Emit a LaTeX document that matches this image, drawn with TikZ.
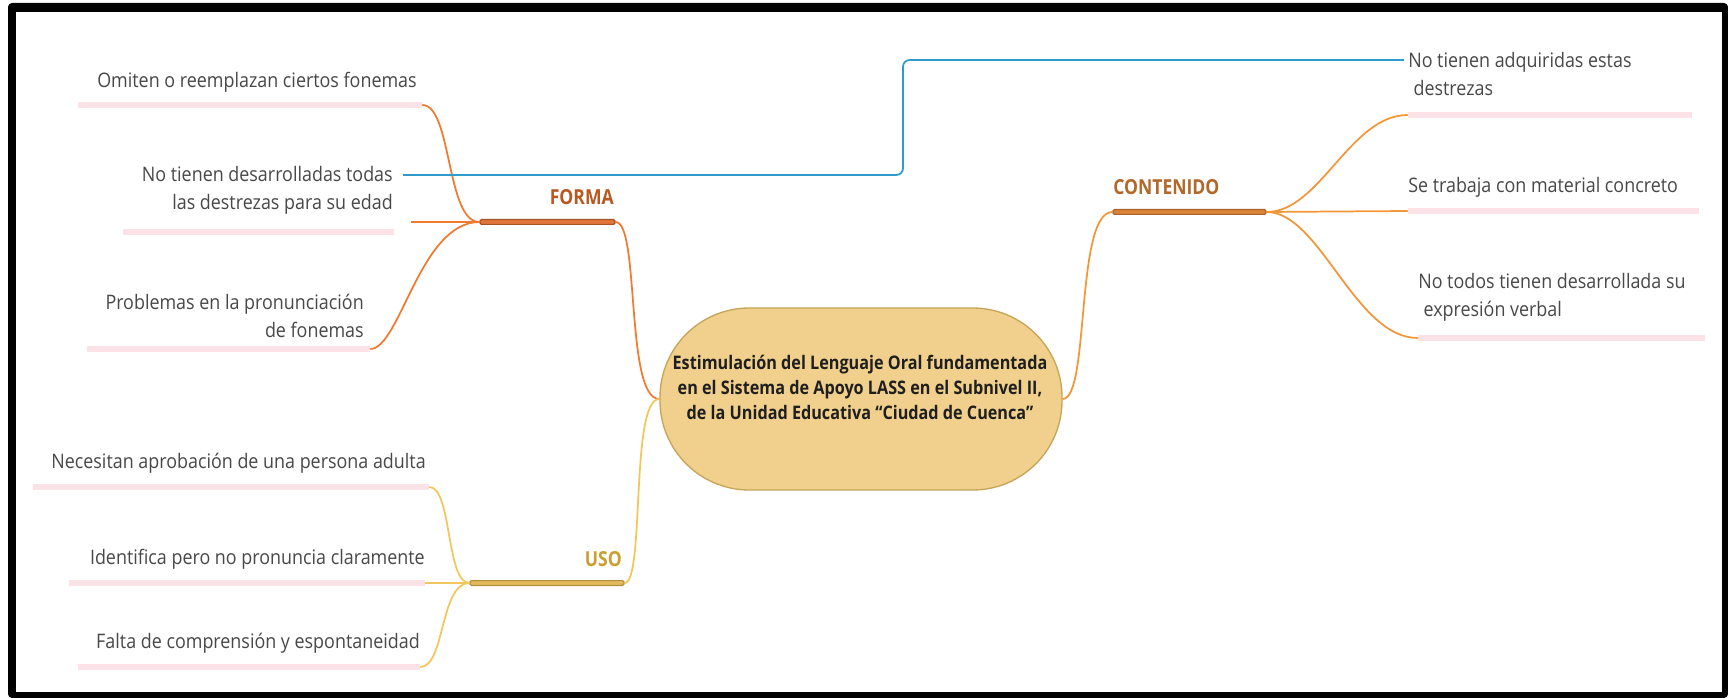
\documentclass[tikz,border=0pt]{standalone}
\usepackage{fontspec}
\setmainfont{Open Sans}
\newfontfamily\leaffont[FakeStretch=0.895]{Open Sans}
\newfontfamily\condfont[FakeStretch=0.868]{Open Sans}
\newfontfamily\branchfont[FakeStretch=0.85]{Open Sans}
\definecolor{pinkc}{RGB}{250,226,230}
\definecolor{leafgray}{RGB}{72,72,72}
\definecolor{formaline}{RGB}{240,122,48}
\definecolor{formafill}{RGB}{226,118,58}
\definecolor{formadraw}{RGB}{165,82,38}
\definecolor{formatext}{RGB}{185,88,32}
\definecolor{contline}{RGB}{242,150,55}
\definecolor{contfill}{RGB}{218,132,58}
\definecolor{contdraw}{RGB}{172,98,40}
\definecolor{conttext}{RGB}{178,104,40}
\definecolor{usoline}{RGB}{243,198,92}
\definecolor{usofill}{RGB}{226,186,92}
\definecolor{usodraw}{RGB}{178,144,60}
\definecolor{usotext}{RGB}{204,158,48}
\definecolor{bluec}{RGB}{46,155,205}
\definecolor{centerc}{RGB}{240,208,140}
\definecolor{centerd}{RGB}{198,165,88}
\newcommand\mkbar[5]{\node[#2, minimum width={(#4-#3)*0.75pt}] (#1) at ({(#3+#4)/2},#5) {};}
\begin{document}
\begin{tikzpicture}[x=0.75pt,y=-0.75pt,
  leaf/.style={font=\leaffont\fontsize{15}{21}\selectfont, text=leafgray, inner sep=0pt},
  leafL/.style={leaf, anchor=east, align=right},
  leafR/.style={leaf, anchor=west, align=left},
  pinkbar/.style={fill=pinkc, draw=none, inner sep=0pt, minimum height=4.9pt},
  mainbar/.style={inner sep=0pt, minimum height=3.6pt, line width=0.9pt, rounded corners=1pt},
  formabar/.style={mainbar, fill=formafill, draw=formadraw},
  contbar/.style={mainbar, fill=contfill, draw=contdraw},
  usobar/.style={mainbar, fill=usofill, draw=usodraw},
  branch/.style={font=\branchfont\bfseries\fontsize{15.5}{17}\selectfont, inner sep=0pt},
  link/.style={line width=1.3pt},
]
\useasboundingbox (0,0) rectangle (1728,698);
\fill[black, rounded corners=3pt] (8,3) rectangle (1728,698);
\fill[white] (16,12) rectangle (1722,692);

% center
\node[fill=centerc, draw=centerd, line width=1pt, rounded corners=67pt,
      minimum width=301.5pt, minimum height=136.5pt, inner sep=0pt] (center) at (861,399) {};
\node[font=\condfont\bfseries\fontsize{14}{18.75}\selectfont, align=center, text=black!88, inner sep=0pt] (title) at (860,387)
  {Estimulación del Lenguaje Oral fundamentada\\en el Sistema de Apoyo LASS en el Subnivel II,\\de la Unidad Educativa “Ciudad de Cuenca”};

% main bars
\mkbar{forma}{formabar}{480}{615}{222}
\mkbar{uso}{usobar}{470}{624}{583}
\mkbar{cont}{contbar}{1113}{1266}{212}
\node[branch, text=formatext, anchor=east] (formaL) at (614,197) {FORMA};
\node[branch, text=usotext, anchor=east] (usoL) at (622,559) {USO};
\node[branch, text=conttext, anchor=west] (contL) at (1113,187) {CONTENIDO};

% pink bars
\mkbar{pb1}{pinkbar}{78}{422}{105}
\mkbar{pb2}{pinkbar}{123}{394}{232}
\mkbar{pb3}{pinkbar}{87}{370}{349}
\mkbar{pu1}{pinkbar}{33}{429}{487}
\mkbar{pu2}{pinkbar}{69}{425}{583}
\mkbar{pu3}{pinkbar}{78}{420}{667}
\mkbar{pr1}{pinkbar}{1408}{1692}{115}
\mkbar{pr2}{pinkbar}{1408}{1699}{211}
\mkbar{pr3}{pinkbar}{1418}{1705}{338}

% leaves
\node[leafL] (l1) at (417,82) {Omiten o reemplazan ciertos fonemas};
\node[leafL] (l2) at (393,190) {No tienen desarrolladas todas\\las destrezas para su edad};
\node[leafL] (l3) at (364,315.5) {Problemas en la pronunciación\\de fonemas};
\node[leafL] (u1) at (426,463) {Necesitan aprobación de una persona adulta};
\node[leafL] (u2) at (425,559) {Identifica pero no pronuncia claramente};
\node[leafL] (u3) at (420,643) {Falta de comprensión y espontaneidad};
\node[leafR] (r1) at (1408,74.5) {No tienen adquiridas estas\\\hspace*{4pt}destrezas};
\node[leafR] (r2) at (1408,187) {Se trabaja con material concreto};
\node[leafR] (r3) at (1418,297.5) {No todos tienen desarrollada su\\\hspace*{4pt}expresión verbal};

% FORMA connectors
\coordinate (c2) at (411,222);
\draw[link, formaline] (pb1.east) .. controls (452,105) and (446,222) .. (forma.west);
\draw[link, formaline] (c2) -- (forma.west);
\draw[link, formaline] (pb3.east) .. controls (400,349) and (420,222) .. (forma.west);
\draw[link, formaline] (forma.east) .. controls (640,222) and (625,399) .. (center.west);

% USO connectors
\draw[link, usoline] (pu1.east) .. controls (452,487) and (446,583) .. (uso.west);
\draw[link, usoline] (pu2.east) -- (uso.west);
\draw[link, usoline] (pu3.east) .. controls (445,667) and (440,583) .. (uso.west);
\draw[link, usoline] (uso.east) .. controls (645,583) and (630,399) .. (center.west);

% CONTENIDO connectors
\draw[link, contline] (center.east) .. controls (1090,399) and (1075,212) .. (cont.west);
\draw[link, contline] (cont.east) .. controls (1320,212) and (1350,115) .. (pr1.west);
\draw[link, contline] (cont.east) -- (pr2.west);
\draw[link, contline] (cont.east) .. controls (1320,212) and (1355,338) .. (pr3.west);

% blue relation
\coordinate (blA) at (403,175);
\coordinate (blB) at (1404,60);
\coordinate (bend) at (903,117);
\draw[link, bluec, rounded corners=5pt] (blA) -| (bend) |- (blB);
\end{tikzpicture}
\end{document}
